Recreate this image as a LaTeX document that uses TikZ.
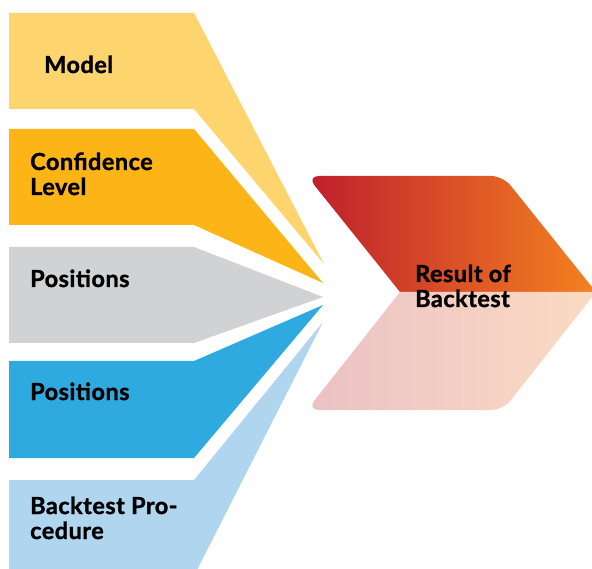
\documentclass[tikz,border=0pt]{standalone}
\usepackage{fontspec}
\setmainfont{Lato}[BoldFeatures={FakeBold=1.3,LetterSpace=2}]
\begin{document}
\begin{tikzpicture}[x=1pt,y=-1pt,
  lbl/.style={anchor=base west,inner sep=0pt,font=\fontsize{23.5}{25}\selectfont\bfseries,align=left,text=black}]
\definecolor{cModel}{HTML}{FED46E}
\definecolor{cConf}{HTML}{FDB417}
\definecolor{cGray}{HTML}{D1D2D4}
\definecolor{cBlue}{HTML}{2EAAE1}
\definecolor{cLBlue}{HTML}{B0D5EF}
\definecolor{cRedL}{HTML}{BE1E2D}
\definecolor{cRedR}{HTML}{F58220}
\definecolor{cPinkL}{HTML}{EBC1C4}
\definecolor{cPinkR}{HTML}{FBDBC3}
\fill[white] (0,0) rectangle (592,569);
\useasboundingbox (0,0) rectangle (592,569);
\clip (0,0) rectangle (592,569);
% input fans
\fill[cModel] (9,13) -- (194,13) -- (324,264) -- (194,109) -- (9,109) -- cycle;
\fill[cConf] (9,129) -- (194,129) -- (323,283) -- (194,225) -- (9,225) -- cycle;
\fill[cGray] (9,247) -- (194,247) -- (323,297) -- (194,343) -- (9,343) -- cycle;
\fill[cBlue] (9,361) -- (194,361) -- (323,305) -- (194,458) -- (9,458) -- cycle;
\fill[cLBlue] (9,480) -- (194,480) -- (323,322) -- (194,576) -- (9,576) -- cycle;
% result chevron
\shade[left color=cRedL,right color=cRedR]
  (400,292) [rounded corners=12pt] -- (307,176) -- (503,176) [sharp corners] -- (596,292) -- cycle;
\shade[left color=cPinkL,right color=cPinkR]
  (596,292) [rounded corners=12pt] -- (503,410) -- (307,410) [sharp corners] -- (400,292) -- cycle;
% labels (base = baseline of last line)
\node[lbl] (model) at (44,73) {Model};
\node[lbl] (conf) at (30,195) {Confidence\\Level};
\node[lbl] (pos1) at (30,287) {Positions};
\node[lbl] (pos2) at (30,400) {Positions};
\node[lbl] (proc) at (30,539) {Backtest Pro-\\cedure};
\node[lbl] (result) at (415,307) {Result of\\Backtest};
\end{tikzpicture}
\end{document}
